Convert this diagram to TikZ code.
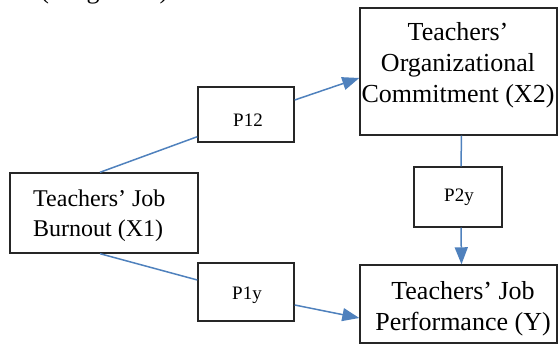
\documentclass[tikz,border=0pt]{standalone}
\usepackage{fontspec}
\setmainfont{Liberation Serif}
\usetikzlibrary{arrows.meta,calc}
\definecolor{linkblue}{RGB}{79,129,189}
\tikzset{
  box/.style={draw=black!85,line width=1.4pt,rectangle,inner sep=0pt,fill=white},
  bigtxt/.style={font=\fontsize{26}{31}\selectfont,align=center,inner sep=0pt},
  midtxt/.style={font=\fontsize{24}{30}\selectfont,align=left,inner sep=0pt},
  ptxt/.style={font=\fontsize{19}{22}\selectfont,inner sep=0pt},
  link/.style={draw=linkblue,line width=1.5pt},
  arrowlink/.style={link,-{Triangle[length=17pt,width=13pt]}}
}
\begin{document}
\begin{tikzpicture}[x=1pt,y=-1pt]
\useasboundingbox (0,0) rectangle (558,347);
\begin{scope}
\clip (0,0) rectangle (558,347);
\node[anchor=base west,font=\fontsize{26}{31}\selectfont,inner sep=0pt] (top) at (2,-1.5) {ow (Diagram 1).};
% boxes
\node[box,minimum width=188pt,minimum height=80pt] (x1) at (104,213) {};
\node[box,minimum width=96pt,minimum height=55pt] (p12) at (246,114.5) {};
\node[box,minimum width=197pt,minimum height=127pt] (x2) at (458.5,71.5) {};
\node[box,minimum width=88pt,minimum height=60pt] (p2y) at (458,197) {};
\node[box,minimum width=197pt,minimum height=78pt] (y) at (458.5,304) {};
\node[box,minimum width=96pt,minimum height=58pt] (p1y) at (246,292) {};
% texts (base anchor = baseline of the last line)
\node[midtxt,anchor=base west] (x1t) at (33,237) {Teachers’ Job\\Burnout (X1)};
\node[bigtxt,anchor=base] (x2t) at (458,103) {Teachers’\\Organizational\\Commitment (X2)};
\node[bigtxt,anchor=base] (yt) at (463,331) {Teachers’ Job\\Performance (Y)};
\node[ptxt] (p12t) at (248,120) {P12};
\node[ptxt] (p2yt) at (459,197) {P2y};
\node[ptxt] (p1yt) at (247,295) {P1y};
% connectors
\draw[link] ([xshift=-4pt]x1.north) -- ([yshift=6pt]p12.south west);
\draw[arrowlink] ([yshift=14.5pt]p12.east) -- ([yshift=-6.5pt]x2.west);
\draw[link] ([xshift=-4pt]x1.south) -- ([yshift=12pt]p1y.west);
\draw[arrowlink] ([yshift=-13pt]p1y.east) -- ([yshift=-14pt]y.west);
\draw[link] ([xshift=3pt]x2.south) -- ([xshift=3pt]p2y.north);
\draw[arrowlink] ([xshift=3pt]p2y.south) -- ([xshift=3pt]y.north);
\end{scope}
\end{tikzpicture}
\end{document}
